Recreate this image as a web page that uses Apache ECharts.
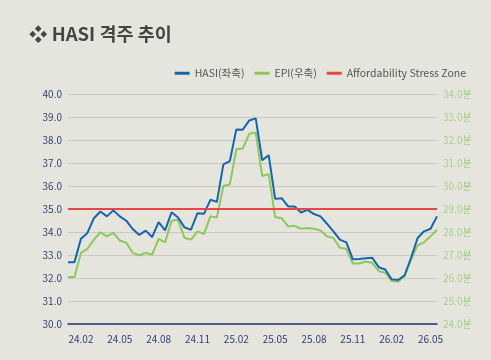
<!DOCTYPE html>
<html>
<head>
<meta charset="utf-8">
<script src="https://cdn.jsdelivr.net/npm/echarts@6/dist/echarts.min.js"></script>
<style>
html,body{margin:0;padding:0;background:#e6e5dd;}
#c{width:491px;height:360px;}
</style>
</head>
<body>
<div id="c"></div>
<script>
const categories = [
 '24.01-1','24.01-2','24.02-1','24.02-2','24.03-1','24.03-2','24.04-1','24.04-2','24.05-1','24.05-2',
 '24.06-1','24.06-2','24.07-1','24.07-2','24.08-1','24.08-2','24.09-1','24.09-2','24.10-1','24.10-2',
 '24.11-1','24.11-2','24.12-1','24.12-2','25.01-1','25.01-2','25.02-1','25.02-2','25.03-1','25.03-2',
 '25.04-1','25.04-2','25.05-1','25.05-2','25.06-1','25.06-2','25.07-1','25.07-2','25.08-1','25.08-2',
 '25.09-1','25.09-2','25.10-1','25.10-2','25.11-1','25.11-2','25.12-1','25.12-2','26.01-1','26.01-2',
 '26.02-1','26.02-2','26.03-1','26.03-2','26.04-1','26.04-2','26.05-1','26.05-2'
];
const hasi = [
 32.69,32.69,33.71,33.96,34.60,34.89,34.68,34.94,34.68,34.49,
 34.13,33.87,34.06,33.78,34.43,34.07,34.86,34.63,34.20,34.10,
 34.82,34.79,35.40,35.31,36.94,37.08,38.46,38.45,38.85,38.94,
 37.12,37.34,35.44,35.47,35.11,35.11,34.85,34.96,34.78,34.68,
 34.36,34.03,33.67,33.55,32.81,32.83,32.86,32.88,32.47,32.37,
 31.94,31.91,32.12,32.88,33.74,34.03,34.14,34.68
];
const epi = [
 26.04,26.04,27.09,27.27,27.67,27.99,27.81,27.96,27.63,27.53,
 27.09,26.99,27.09,27.02,27.70,27.55,28.49,28.53,27.74,27.67,
 28.03,27.91,28.68,28.63,30.00,30.07,31.60,31.63,32.27,32.32,
 30.43,30.52,28.65,28.60,28.24,28.27,28.14,28.17,28.14,28.06,
 27.81,27.74,27.31,27.27,26.63,26.63,26.72,26.66,26.30,26.23,
 25.87,25.84,26.09,26.81,27.42,27.55,27.81,28.10
];
const stressLevel = 35;
const leftTicks = {min: 30, max: 40, interval: 1};
const rightTicks = {min: 24, max: 34, interval: 1};
const seriesNames = ['HASI(좌축)', 'EPI(우축)', 'Affordability Stress Zone'];
const titleText = '❖ HASI 격주 추이';

const font = "'Noto Sans CJK KR','Noto Sans',sans-serif";
const chart = echarts.init(document.getElementById('c'), null, {renderer: 'canvas'});
chart.setOption({
  backgroundColor: '#e6e5dd',
  animation: false,
  title: {
    text: titleText, left: 24, top: 20,
    textStyle: {fontFamily: font, fontSize: 18.5, fontWeight: 'bold', color: '#454545'}
  },
  legend: {
    right: 20, top: 63, itemWidth: 15, itemHeight: 3, itemGap: 10,
    icon: 'rect',
    textStyle: {fontFamily: font, fontSize: 10.5, color: '#555555'},
    data: seriesNames
  },
  grid: {left: 68, right: 54, top: 94, bottom: 36},
  xAxis: {
    type: 'category', data: categories, boundaryGap: false,
    axisLine: {lineStyle: {color: '#1f3470', width: 1.5}},
    axisTick: {show: false},
    axisLabel: {
      interval: (i) => i % 6 === 2,
      formatter: (v) => v.slice(0, 5),
      fontFamily: font, fontSize: 10, color: '#2e3f78', margin: 10
    },
    splitLine: {show: false}
  },
  yAxis: [
    {
      type: 'value', min: leftTicks.min, max: leftTicks.max, interval: leftTicks.interval,
      axisLine: {show: false}, axisTick: {show: false},
      axisLabel: {formatter: (v) => v.toFixed(1), fontFamily: font, fontSize: 10, color: '#2e3f78', margin: 6},
      splitLine: {lineStyle: {color: '#c9c9c4', width: 1}}
    },
    {
      type: 'value', min: rightTicks.min, max: rightTicks.max, interval: rightTicks.interval,
      axisLine: {show: false}, axisTick: {show: false},
      axisLabel: {formatter: (v) => v.toFixed(1) + '분', fontFamily: font, fontSize: 10, color: '#a6cf8a', margin: 6},
      splitLine: {show: false}
    }
  ],
  series: [
    {
      name: seriesNames[0], type: 'line', data: hasi, yAxisIndex: 0,
      symbol: 'none', lineStyle: {color: '#1565ad', width: 2}, itemStyle: {color: '#1565ad'}, z: 4
    },
    {
      name: seriesNames[1], type: 'line', data: epi, yAxisIndex: 1,
      symbol: 'none', lineStyle: {color: '#8cc85a', width: 2}, itemStyle: {color: '#8cc85a'}, z: 3
    },
    {
      name: seriesNames[2], type: 'line', data: [], yAxisIndex: 0,
      symbol: 'none', lineStyle: {color: '#e84545', width: 2}, itemStyle: {color: '#e84545'},
      markLine: {
        silent: true, symbol: 'none', label: {show: false},
        lineStyle: {color: '#e84545', width: 2, type: 'solid'},
        data: [{yAxis: stressLevel}]
      }, z: 2
    }
  ]
});
</script>
</body>
</html>
